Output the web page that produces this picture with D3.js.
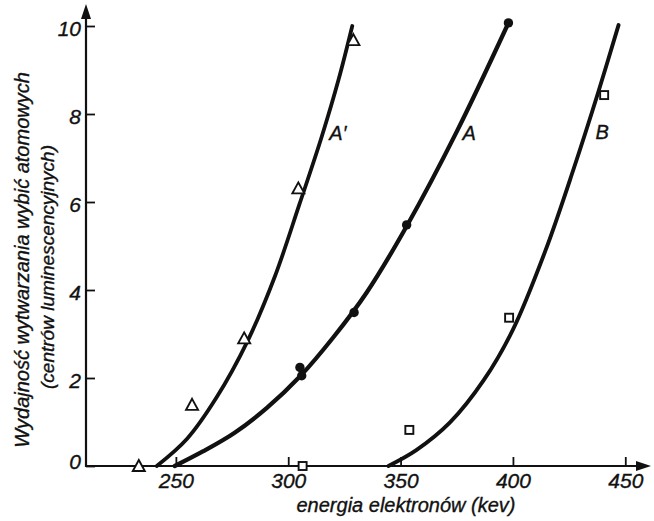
<!DOCTYPE html>
<html>
<head>
<meta charset="utf-8">
<script src="https://cdn.jsdelivr.net/npm/d3@7"></script>
<style>
  html, body { margin: 0; padding: 0; background: #fff; }
  svg { display: block; }
  text { font-family: "Liberation Sans", Arial, sans-serif; font-style: italic; fill: #111; stroke: #111; stroke-width: 0.35px; }
</style>
</head>
<body>
<svg id="chart" width="654" height="521"></svg>
<script>
// Axis ticks
const energyTicks = [250, 300, 350, 400, 450];
const yieldTicks = [0, 2, 4, 6, 8, 10];

// Curve A' (drawn curve) and its measured points (open triangles)
const curveAprimeE = [241.5, 255, 268, 282, 294, 305, 315, 322.5, 328.5];
const curveAprimeY = [0, 0.62, 1.55, 2.85, 4.3, 5.95, 7.5, 8.8, 10.0];
const pointsAprimeE = [233.5, 257.2, 280.4, 304.5, 329.0];
const pointsAprimeY = [0, 1.39, 2.9, 6.31, 9.68];

// Curve A and its measured points (filled circles)
const curveAE = [249.5, 262, 276, 290.5, 305.5, 320, 335, 352.7, 375, 398];
const curveAY = [0, 0.33, 0.75, 1.32, 2.05, 2.92, 3.95, 5.45, 7.6, 10.07];
const pointsAE = [305.2, 306.0, 329.3, 352.7, 398];
const pointsAY = [2.24, 2.05, 3.49, 5.48, 10.07];

// Curve B and its measured points (open squares)
const curveBE = [344.6, 357, 372, 387, 400, 414.5, 427, 438, 447];
const curveBY = [0, 0.36, 0.99, 1.95, 3.1, 4.9, 6.75, 8.5, 10.02];
const pointsBE = [306.4, 353.9, 398.3, 440.6];
const pointsBY = [0, 0.82, 3.37, 8.43];

// Curve labels
const curveNames = ["A\u2032", "A", "B"];
const curveLabelE = [322.1, 380.5, 439.7];
const curveLabelY = [7.57, 7.57, 7.59];

const xTitle = "energia elektronów (kev)";
const yTitle1 = "Wydajność wytwarzania wybić atomowych";
const yTitle2 = "(centrów luminescencyjnych)";

const svg = d3.select("#chart");

const x = d3.scaleLinear().domain([210, 461]).range([86, 650]);
const y = d3.scaleLinear().domain([0, 10]).range([466, 26]);

const ink = "#111";

// X axis with upward ticks
const xAxis = svg.append("g")
  .attr("transform", `translate(0,${y(0)})`)
  .call(d3.axisBottom(x).tickValues(energyTicks).tickSize(-9).tickSizeOuter(0));
xAxis.select(".domain").remove();
xAxis.selectAll(".tick line").attr("stroke", ink).attr("stroke-width", 1.8);
xAxis.selectAll(".tick text")
  .attr("y", 22).attr("dy", 0)
  .style("font-size", "21px")
  .style("font-family", "'Liberation Sans', Arial, sans-serif")
  .style("font-style", "italic")
  .attr("fill", ink).attr("stroke", ink).attr("stroke-width", 0.35);

// Y axis with ticks pointing right
const yAxis = svg.append("g")
  .attr("transform", `translate(${x(210)},0)`)
  .call(d3.axisLeft(y).tickValues(yieldTicks).tickSize(-9).tickSizeOuter(0));
yAxis.select(".domain").remove();
yAxis.selectAll(".tick line").attr("stroke", ink).attr("stroke-width", 1.8);
yAxis.selectAll(".tick text")
  .attr("x", -5).attr("dy", "0.45em")
  .style("font-size", "21px")
  .style("font-family", "'Liberation Sans', Arial, sans-serif")
  .style("font-style", "italic")
  .attr("fill", ink).attr("stroke", ink).attr("stroke-width", 0.35);
yAxis.selectAll(".tick").filter(d => d === 0).select("text").attr("dy", "0.1em");

// Axis lines with arrowheads
svg.append("line").attr("x1", x(210)).attr("x2", 641).attr("y1", y(0)).attr("y2", y(0))
  .attr("stroke", ink).attr("stroke-width", 2.2);
svg.append("path")
  .attr("d", `M651,${y(0)} L636,${y(0) - 5} L636,${y(0) + 5} Z`).attr("fill", ink);
svg.append("line").attr("x1", x(210)).attr("x2", x(210)).attr("y1", y(0) + 1).attr("y2", 14)
  .attr("stroke", ink).attr("stroke-width", 2.2);
svg.append("path")
  .attr("d", `M${x(210)},4 L${x(210) - 5},19 L${x(210) + 5},19 Z`).attr("fill", ink);

// Curves
const line = d3.line().x(d => x(d[0])).y(d => y(d[1])).curve(d3.curveCatmullRom.alpha(0.5));
const curves = [
  { e: curveAprimeE, v: curveAprimeY, w: 3.8 },
  { e: curveAE, v: curveAY, w: 4.3 },
  { e: curveBE, v: curveBY, w: 3.9 }
];
curves.forEach(c => {
  svg.append("path")
    .datum(d3.zip(c.e, c.v))
    .attr("d", line)
    .attr("fill", "none")
    .attr("stroke", ink)
    .attr("stroke-width", c.w)
    .attr("stroke-linecap", "round");
});

// Open triangles
svg.append("g").selectAll("path")
  .data(d3.zip(pointsAprimeE, pointsAprimeY))
  .join("path")
  .attr("transform", d => `translate(${x(d[0])},${y(d[1])})`)
  .attr("d", "M0,-6 L6,5 L-6,5 Z")
  .attr("fill", "#fff").attr("stroke", ink).attr("stroke-width", 1.9)
  .attr("stroke-linejoin", "miter");

// Filled circles
svg.append("g").selectAll("circle")
  .data(d3.zip(pointsAE, pointsAY))
  .join("circle")
  .attr("cx", d => x(d[0])).attr("cy", d => y(d[1])).attr("r", 4.7)
  .attr("fill", ink);

// Open squares
svg.append("g").selectAll("rect")
  .data(d3.zip(pointsBE, pointsBY))
  .join("rect")
  .attr("x", d => x(d[0]) - 4).attr("y", d => y(d[1]) - 4)
  .attr("width", 8).attr("height", 8)
  .attr("fill", "#fff").attr("stroke", ink).attr("stroke-width", 1.9);

// Curve labels
svg.append("g").selectAll("text")
  .data(d3.zip(curveNames, curveLabelE, curveLabelY))
  .join("text")
  .attr("x", d => x(d[1])).attr("y", d => y(d[2]))
  .attr("text-anchor", "middle").attr("dy", "0.36em")
  .style("font-size", "20px")
  .text(d => d[0]);

// Axis titles
svg.append("text")
  .attr("x", 406).attr("y", 512)
  .attr("text-anchor", "middle")
  .style("font-size", "20px")
  .text(xTitle);

svg.append("text")
  .attr("transform", "translate(29,260) rotate(-90)")
  .attr("text-anchor", "middle")
  .style("font-size", "20px")
  .text(yTitle1);

svg.append("text")
  .attr("transform", "translate(54,267) rotate(-90)")
  .attr("text-anchor", "middle")
  .style("font-size", "19px")
  .text(yTitle2);
</script>
</body>
</html>
